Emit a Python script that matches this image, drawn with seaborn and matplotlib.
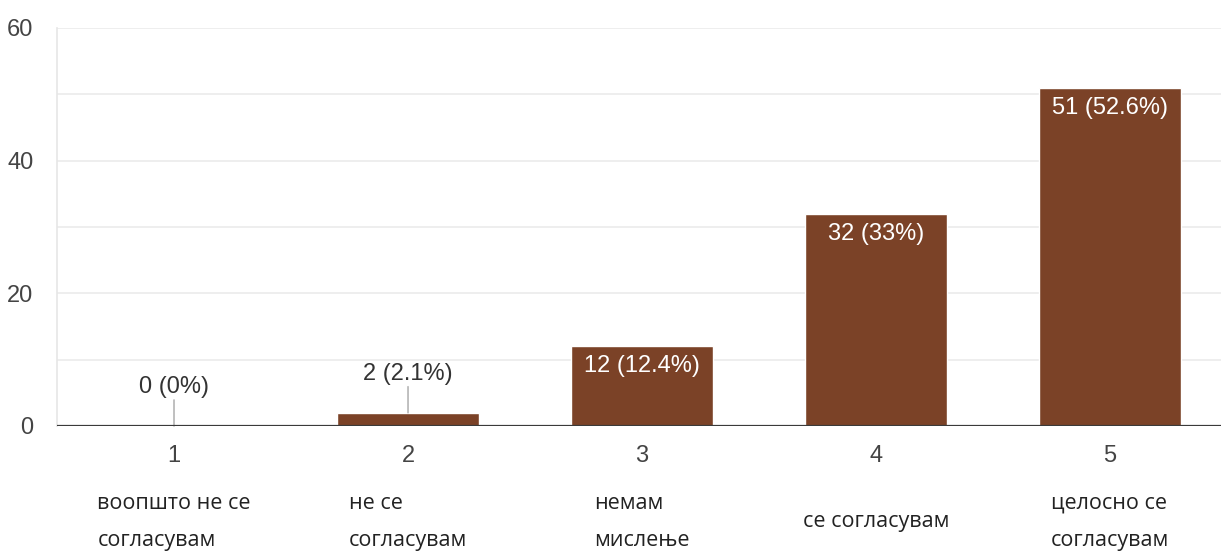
import matplotlib
matplotlib.use("Agg")
import matplotlib.pyplot as plt
import matplotlib.transforms as mtransforms
import pandas as pd
import seaborn as sns

# -----------------------------
# Data
# -----------------------------
scale_points = ["1", "2", "3", "4", "5"]
answer_labels = ["воопшто не се\nсогласувам", "не се\nсогласувам", "немам\nмислење",
                 "се согласувам", "целосно се\nсогласувам"]
counts = [0, 2, 12, 32, 51]
total = sum(counts)

df = pd.DataFrame({"point": scale_points, "count": counts})

bar_color = "#7b4227"

sns.set_style("white")
plt.rcParams["font.family"] = ["Liberation Sans", "DejaVu Sans"]

fig = plt.figure(figsize=(12.21, 5.57), dpi=100)
ax = fig.add_axes([57 / 1221, 131 / 557, 1 - 57 / 1221, 398 / 557])

sns.barplot(data=df, x="point", y="count", color=bar_color, saturation=1,
            width=0.61, ax=ax)

ax.set_ylim(0, 60)
ax.set_xlim(-0.5, 4.474)
ax.set_yticks([0, 20, 40, 60])
ax.set_yticks([10, 30, 50], minor=True)
ax.grid(axis="y", which="both", color="#ebebeb", linewidth=1.2)
ax.set_axisbelow(True)
ax.set_xlabel("")
ax.set_ylabel("")

for side in ["top", "right", "bottom"]:
    ax.spines[side].set_visible(False)
ax.spines["left"].set_color("#e6e6e6")
ax.spines["left"].set_linewidth(1.2)
ax.axhline(0, color="#3a3a3a", linewidth=1.6, zorder=5)

ax.tick_params(axis="y", which="both", length=0, pad=17, labelsize=17, labelcolor="#444444")
ax.tick_params(axis="x", length=0, pad=14, labelsize=17, labelcolor="#444444")

# value labels
px = 72 / 100  # points per pixel
for i, c in enumerate(counts):
    pct = round(c / total * 100, 1)
    text = f"{c} ({pct:g}%)"
    if c >= 10:
        ax.annotate(text, (i, c), xytext=(0, -20 * px), textcoords="offset points",
                    ha="center", va="center", color="white", fontsize=17)
    else:
        ax.annotate(text, (i, c), xytext=(0, 39 * px), textcoords="offset points",
                    ha="center", va="center", color="#333333", fontsize=17)
        ax.annotate("", (i, c), xytext=(0, 26 * px), textcoords="offset points",
                    arrowprops=dict(arrowstyle="-", color="#b5b5b5", lw=1.2,
                                    shrinkA=0, shrinkB=0))

# answer descriptions under the scale points
trans = mtransforms.blended_transform_factory(ax.transData, fig.transFigure)
for i, lab in enumerate(answer_labels):
    ax.text(i, 35 / 557, lab, transform=trans, ha="center", va="center",
            multialignment="left", fontsize=15.5, color="#222222",
            family=["Open Sans", "DejaVu Sans"], linespacing=2.0)

fig.savefig("out.png", dpi=100)
